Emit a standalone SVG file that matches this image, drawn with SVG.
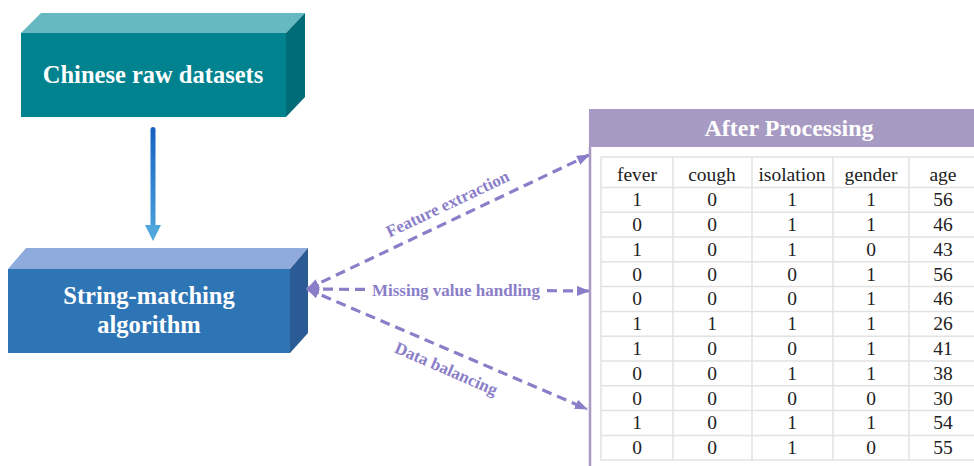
<svg xmlns="http://www.w3.org/2000/svg" width="974" height="466" viewBox="0 0 974 466">
<defs>
<linearGradient id="vg" gradientUnits="userSpaceOnUse" x1="0" y1="127" x2="0" y2="241">
<stop offset="0" stop-color="#1562C2"/>
<stop offset="1" stop-color="#4FA6DD"/>
</linearGradient>
<marker id="ah" markerUnits="userSpaceOnUse" markerWidth="14" markerHeight="12" refX="12" refY="5" orient="auto-start-reverse">
<path d="M0,0 L13,5 L0,10 z" fill="#8B7EC8"/>
</marker>
<style>
.boxt{font-family:"Liberation Serif",serif;font-weight:bold;font-size:24.5px;fill:#fff;text-anchor:middle}
.lbl{font-family:"Liberation Serif",serif;font-weight:bold;font-size:17px;fill:#8B7EC8;text-anchor:middle}
.dash{stroke:#8B7EC8;stroke-width:3.2;stroke-dasharray:10,6;fill:none}
.cell{font-family:"Liberation Serif",serif;font-size:19.5px;fill:#222;text-anchor:middle}
.grid{stroke:#E2E2E2;stroke-width:1.5;fill:none}
</style>
</defs>
<rect width="974" height="466" fill="#fff"/>

<g id="node-raw">
<polygon points="21,33 41,13 305,13 286,33" fill="#66B8C1"/>
<polygon points="286,33 305,13 305,97 286,117" fill="#006C78"/>
<rect x="21" y="33" width="265" height="84" fill="#00838F"/>
<text class="boxt" x="153" y="83">Chinese raw datasets</text>
</g>

<g id="node-algo">
<polygon points="8,269 26,248 308,248 290,269" fill="#8FAADC"/>
<polygon points="290,269 308,248 308,333 290,353" fill="#2A5B95"/>
<rect x="8" y="269" width="282" height="84" fill="#2E75B6"/>
<text class="boxt" x="149" y="304">String-matching</text>
<text class="boxt" x="149" y="333">algorithm</text>
</g>

<g id="connectors">
<rect x="150.5" y="127" width="5" height="100" rx="2.5" fill="url(#vg)"/>
<path d="M145,225 L161,225 L153,241 z" fill="#4FA6DD"/>
<line class="dash" x1="307" y1="289" x2="589" y2="155" marker-start="url(#ah)" marker-end="url(#ah)"/>
<line class="dash" x1="307" y1="289" x2="589" y2="291" marker-start="url(#ah)" marker-end="url(#ah)"/>
<line class="dash" x1="307" y1="289" x2="587" y2="409" marker-start="url(#ah)" marker-end="url(#ah)"/>
<rect x="371" y="279" width="172" height="22" fill="#fff"/>
<text class="lbl" x="456" y="296">Missing value handling</text>
<text class="lbl" transform="translate(450,209) rotate(-25.4)">Feature extraction</text>
<text class="lbl" transform="translate(444,374) rotate(23.5)">Data balancing</text>
</g>

<g id="node-table">
<rect x="589" y="109" width="385" height="38" fill="#A79AC3"/>
<line x1="590" y1="147" x2="590" y2="466" stroke="#A79AC3" stroke-width="2.5"/>
<text x="789" y="136" font-family="Liberation Serif, serif" font-weight="bold" font-size="24" fill="#fff" text-anchor="middle">After Processing</text>
<g class="grid">
<rect x="601" y="157" width="376" height="303"/>
<line x1="673" y1="157" x2="673" y2="460"/>
<line x1="752" y1="157" x2="752" y2="460"/>
<line x1="833" y1="157" x2="833" y2="460"/>
<line x1="909" y1="157" x2="909" y2="460"/>
<line x1="601" y1="187.4" x2="977" y2="187.4"/>
<line x1="601" y1="212.2" x2="977" y2="212.2"/>
<line x1="601" y1="237" x2="977" y2="237"/>
<line x1="601" y1="261.8" x2="977" y2="261.8"/>
<line x1="601" y1="286.6" x2="977" y2="286.6"/>
<line x1="601" y1="311.4" x2="977" y2="311.4"/>
<line x1="601" y1="336.2" x2="977" y2="336.2"/>
<line x1="601" y1="361" x2="977" y2="361"/>
<line x1="601" y1="385.8" x2="977" y2="385.8"/>
<line x1="601" y1="410.6" x2="977" y2="410.6"/>
<line x1="601" y1="435.4" x2="977" y2="435.4"/>
</g>
<g class="cell">
<text x="637" y="181">fever</text><text x="712" y="181">cough</text><text x="792" y="181">isolation</text><text x="871" y="181">gender</text><text x="943" y="181">age</text>
<text x="637" y="206">1</text><text x="712" y="206">0</text><text x="792" y="206">1</text><text x="871" y="206">1</text><text x="943" y="206">56</text>
<text x="637" y="231">0</text><text x="712" y="231">0</text><text x="792" y="231">1</text><text x="871" y="231">1</text><text x="943" y="231">46</text>
<text x="637" y="256">1</text><text x="712" y="256">0</text><text x="792" y="256">1</text><text x="871" y="256">0</text><text x="943" y="256">43</text>
<text x="637" y="281">0</text><text x="712" y="281">0</text><text x="792" y="281">0</text><text x="871" y="281">1</text><text x="943" y="281">56</text>
<text x="637" y="305">0</text><text x="712" y="305">0</text><text x="792" y="305">0</text><text x="871" y="305">1</text><text x="943" y="305">46</text>
<text x="637" y="330">1</text><text x="712" y="330">1</text><text x="792" y="330">1</text><text x="871" y="330">1</text><text x="943" y="330">26</text>
<text x="637" y="355">1</text><text x="712" y="355">0</text><text x="792" y="355">0</text><text x="871" y="355">1</text><text x="943" y="355">41</text>
<text x="637" y="380">0</text><text x="712" y="380">0</text><text x="792" y="380">1</text><text x="871" y="380">1</text><text x="943" y="380">38</text>
<text x="637" y="405">0</text><text x="712" y="405">0</text><text x="792" y="405">0</text><text x="871" y="405">0</text><text x="943" y="405">30</text>
<text x="637" y="429">1</text><text x="712" y="429">0</text><text x="792" y="429">1</text><text x="871" y="429">1</text><text x="943" y="429">54</text>
<text x="637" y="454">0</text><text x="712" y="454">0</text><text x="792" y="454">1</text><text x="871" y="454">0</text><text x="943" y="454">55</text>
</g>
</g>
</svg>
